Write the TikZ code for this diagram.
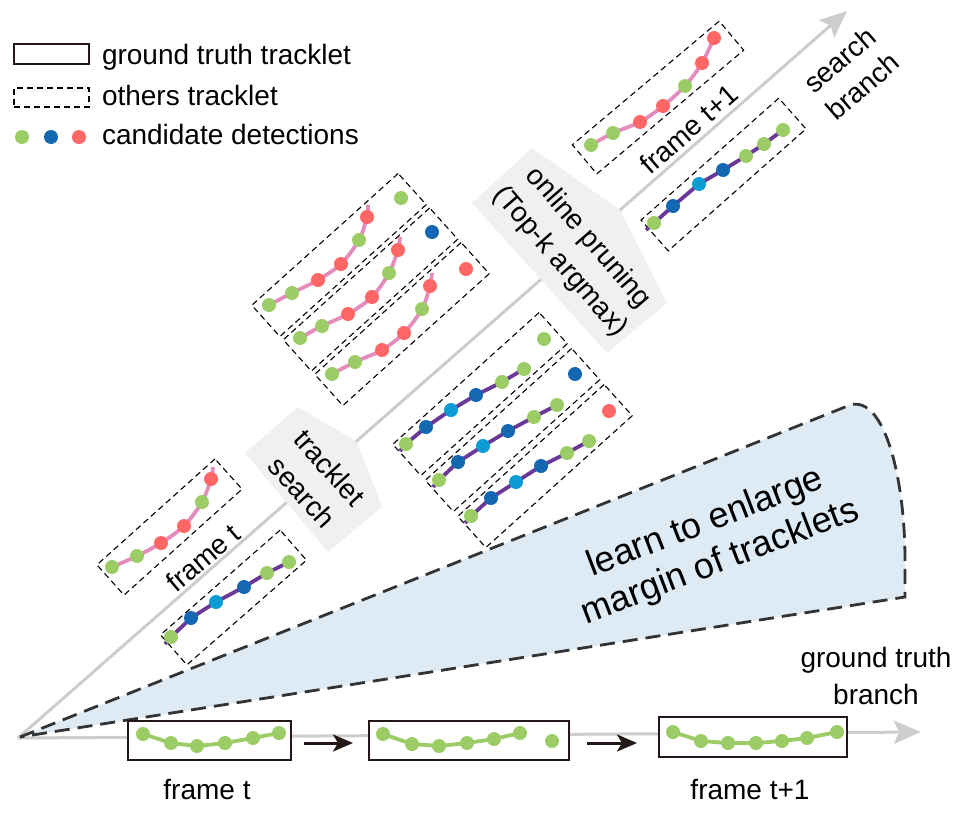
\documentclass[tikz,border=0pt]{standalone}
\usepackage{fontspec}
\setmainfont{Liberation Sans}
\usetikzlibrary{arrows.meta}
\definecolor{cg}{RGB}{155,204,101}
\definecolor{cb}{RGB}{20,104,178}
\definecolor{cl}{RGB}{12,155,210}
\definecolor{cr}{RGB}{255,102,102}
\definecolor{pinkline}{RGB}{228,140,188}
\definecolor{purpline}{RGB}{106,56,150}
\definecolor{axisgray}{RGB}{205,205,205}
\definecolor{pentgray}{RGB}{240,240,240}
\definecolor{fanblue}{RGB}{222,234,244}
\definecolor{inkblack}{RGB}{35,24,21}
\definecolor{fanedge}{RGB}{51,51,51}
\newcommand\trkdots[1]{\foreach \x/\y/\c in {#1} {\fill[\c] (\x,\y) circle[radius=7pt];}}
\begin{document}
\begin{tikzpicture}[x=1pt,y=-1pt,
  every node/.style={inner sep=0pt, outer sep=0pt},
  lbl/.style={font=\fontsize{28}{35}\selectfont, text=black},
  othersbox/.style={draw=black, line width=1.1pt, dash pattern=on 6pt off 4pt},
  gtbox/.style={draw=inkblack, line width=1.4pt, fill=white},
  axisline/.style={draw=axisgray, line width=3pt, -{Stealth[length=27pt,width=23pt,inset=5pt]}},
  blk/.style={draw=inkblack, line width=3pt, -{Stealth[length=20pt,width=17pt,inset=5pt]}},
  pinkl/.style={draw=pinkline, line width=3.8pt, line join=round},
  purpl/.style={draw=purpline, line width=3.8pt, line join=round},
  greenl/.style={draw=cg, line width=3.8pt, line join=round},
  fanstyle/.style={draw=fanedge, line width=2.8pt, dash pattern=on 15pt off 8pt, fill=fanblue},
  pent/.style={fill=pentgray}
]
\useasboundingbox (0,0) rectangle (960,827);

% axes
\coordinate (O) at (18,738);
\coordinate (Stip) at (847,11);
\coordinate (Gtip) at (921,732);
\draw[axisline] (O) -- (Stip);
\draw[axisline] (O) -- (Gtip);

% margin fan
\path[fanstyle] (20,737) -- (850,405) .. controls (885,395) and (905,480) .. (905,560) -- (905,597) -- cycle;
\node[font=\fontsize{36}{42}\selectfont, rotate=21, align=center] (fantext) at (713,543) {learn to enlarge\\margin of tracklets};

% pentagons
\fill[pent] (245,453) -- (298,407) -- (357,442) -- (382,507) -- (328,552) -- cycle;
\node[lbl, rotate=-48, align=center, font=\fontsize{28}{37}\selectfont] (ts) at (316,480) {tracklet\\search};
\fill[pent] (472,203) -- (532,148) -- (620,210) -- (667,303) -- (607,353) -- cycle;
\node[lbl, rotate=-49, align=center, font=\fontsize{28}{37}\selectfont] (op) at (574,250) {online pruning\\(Top-k argmax)};

% legend
\node[draw=inkblack, line width=1.4pt, minimum width=75pt, minimum height=20pt] (legGT) at (51.5,54) {};
\node[othersbox, minimum width=75pt, minimum height=19pt] (legOT) at (51.5,97.5) {};
\trkdots{22/137/cg, 51/137/cb, 79/137/cr}
\node[lbl, anchor=base west] (legT1) at (102,64) {ground truth tracklet};
\node[lbl, anchor=base west] (legT2) at (102,105) {others tracklet};
\node[lbl, anchor=base west] (legT3) at (102,144) {candidate detections};

% group A (frame t)
\node[othersbox, rotate=41.9, minimum width=158.6pt, minimum height=40.6pt] (A1) at (169.5,527) {};
\draw[pinkl] plot[smooth, tension=0.5] coordinates {(112,567) (137,556) (161,543) (184,526) (202,502) (211,479) (213,467)};
\trkdots{112/567/cg, 137/556/cg, 161/543/cr, 184/526/cr, 202/502/cg, 211/479/cr}
\node[othersbox, rotate=41.2, minimum width=159pt, minimum height=40pt] (A2) at (233.5,597.5) {};
\draw[purpl] (165,644) -- (171,637) -- (191,618) -- (216,602) -- (244,587) -- (267,573) -- (289,562) -- (294,559);
\trkdots{171/637/cg, 191/618/cb, 216/602/cl, 244/587/cb, 267/573/cg, 289/562/cg}
\node[lbl, rotate=40] (ftA) at (203,558) {frame t};

% group B
\node[othersbox, rotate=42, minimum width=197pt, minimum height=42pt] (B1) at (339,255) {};
\node[othersbox, rotate=42, minimum width=197pt, minimum height=42pt] (B2) at (370.5,289.5) {};
\node[othersbox, rotate=42, minimum width=197pt, minimum height=42pt] (B3) at (402,324) {};
\draw[pinkl] plot[smooth, tension=0.5] coordinates {(269,305) (292,293) (318,280) (341,264) (359,240) (367,217) (368,205)};
\draw[pinkl] plot[smooth, tension=0.5] coordinates {(300,338) (322,326) (348,314) (372,297) (389,273) (398,250) (400,237)};
\draw[pinkl] plot[smooth, tension=0.5] coordinates {(332,374) (355,362) (382,350) (404,333) (422,309) (430,286) (432,273)};
\trkdots{269/305/cg, 292/293/cg, 318/280/cr, 341/264/cr, 359/240/cg, 367/217/cr, 401/198/cg}
\trkdots{300/338/cg, 322/326/cg, 348/314/cr, 372/297/cr, 389/273/cg, 398/250/cr, 432/232/cb}
\trkdots{332/374/cg, 355/362/cg, 382/350/cr, 404/333/cr, 422/309/cg, 430/286/cr, 466/269/cr}

% group C
\node[othersbox, rotate=42, minimum width=197pt, minimum height=42pt] (C1) at (480,394) {};
\node[othersbox, rotate=42, minimum width=197pt, minimum height=42pt] (C2) at (512.5,430) {};
\node[othersbox, rotate=42, minimum width=197pt, minimum height=42pt] (C3) at (545,466) {};
\draw[purpl] (400,451) -- (406,444) -- (426,427) -- (451,410) -- (476,395) -- (502,382) -- (524,369) -- (530,366);
\draw[purpl] (433,487) -- (439,480) -- (458,462) -- (483,446) -- (508,431) -- (534,417) -- (557,405) -- (562,402);
\draw[purpl] (465,523) -- (471,516) -- (491,498) -- (516,482) -- (541,466) -- (567,453) -- (589,441) -- (594,438);
\trkdots{406/444/cg, 426/427/cb, 451/410/cl, 476/395/cb, 502/382/cg, 524/369/cg, 544/339/cg}
\trkdots{439/480/cg, 458/462/cb, 483/446/cl, 508/431/cb, 534/417/cg, 557/405/cg, 575/374/cb}
\trkdots{471/516/cg, 491/498/cb, 516/482/cl, 541/466/cb, 567/453/cg, 589/441/cg, 609/411/cr}

% group D (frame t+1)
\node[othersbox, rotate=40.1, minimum width=192pt, minimum height=38pt] (D1) at (658,97.5) {};
\draw[pinkl] plot[smooth, tension=0.5] coordinates {(591,145) (613,133) (640,122) (663,106) (685,86) (702,63) (714,38)};
\trkdots{591/145/cg, 613/133/cg, 640/122/cr, 663/106/cr, 685/86/cg, 702/63/cr, 714/38/cr}
\node[othersbox, rotate=41.5, minimum width=184pt, minimum height=41pt] (D2) at (723.5,174.5) {};
\draw[purpl] (646,230) -- (654,223) -- (673,206) -- (699,184) -- (723,170) -- (746,156) -- (764,144) -- (783,130);
\trkdots{654/223/cg, 673/206/cb, 699/184/cl, 723/170/cb, 746/156/cg, 764/144/cg, 783/130/cg}
\node[lbl, rotate=41] (ftD) at (689,129) {frame t+1};
\node[lbl, rotate=41, align=center] (sb) at (851,73) {search\\branch};

% ground truth branch
\node[gtbox, minimum width=163pt, minimum height=39pt] (G1) at (209.5,740.5) {};
\node[gtbox, minimum width=200pt, minimum height=39pt] (G2) at (469,740.5) {};
\node[gtbox, minimum width=188pt, minimum height=40pt] (G3) at (753,737) {};
\draw[greenl] (143,734) -- (171,743) -- (197,746) -- (225,743) -- (253,738) -- (279,733);
\trkdots{143/734/cg, 171/743/cg, 197/746/cg, 225/743/cg, 253/738/cg, 279/733/cg}
\draw[greenl] (383,734) -- (412,744) -- (439,746) -- (467,743) -- (494,739) -- (520,733);
\trkdots{383/734/cg, 412/744/cg, 439/746/cg, 467/743/cg, 494/739/cg, 520/733/cg, 552/741/cg}
\draw[greenl] (673,732) -- (701,741) -- (728,743) -- (756,743) -- (782,741) -- (807,738) -- (837,732);
\trkdots{673/732/cg, 701/741/cg, 728/743/cg, 756/743/cg, 782/741/cg, 807/738/cg, 837/732/cg}
\draw[blk] ([shift={(13pt,-2.5pt)}]G1.east) -- ([shift={(-16pt,-2.5pt)}]G2.west);
\draw[blk] ([shift={(18pt,-2.5pt)}]G2.east) -- ([shift={(-22pt,-6pt)}]G3.west);
\node[lbl, anchor=base] (fb1) at (207,799) {frame t};
\node[lbl, anchor=base] (fb2) at (750,799) {frame t+1};
\node[lbl, align=center, font=\fontsize{28}{37}\selectfont] (gtb) at (876,676) {ground truth\\branch};
\end{tikzpicture}
\end{document}
